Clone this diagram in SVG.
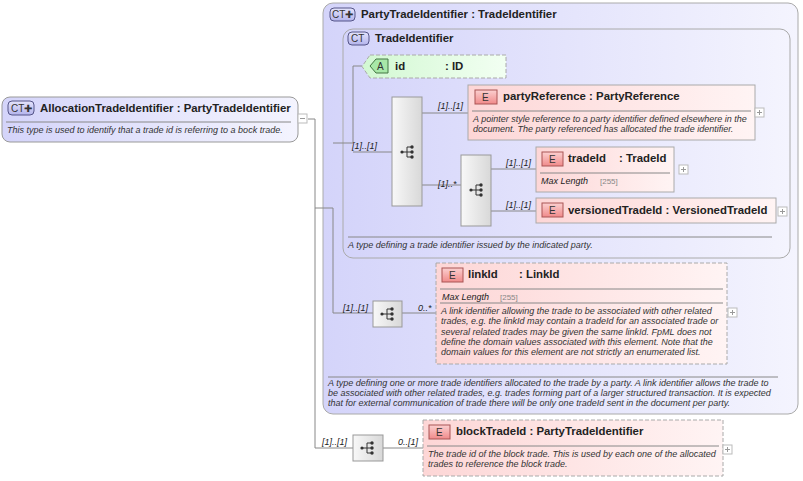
<svg xmlns="http://www.w3.org/2000/svg" width="803" height="481" viewBox="0 0 803 481">
<defs>
<linearGradient id="gCT" x1="0" y1="0" x2="1" y2="0"><stop offset="0" stop-color="#d4d4fa"/><stop offset="1" stop-color="#f4f4fe"/></linearGradient>
<linearGradient id="gE" x1="0" y1="0" x2="1" y2="0"><stop offset="0" stop-color="#fdd6d6"/><stop offset="1" stop-color="#fff4f4"/></linearGradient>
<linearGradient id="gA" x1="0" y1="0" x2="1" y2="0"><stop offset="0" stop-color="#d2f8d2"/><stop offset="1" stop-color="#f2fff2"/></linearGradient>
<linearGradient id="gS" x1="0" y1="0" x2="1" y2="0"><stop offset="0" stop-color="#f8f8f8"/><stop offset="1" stop-color="#d8d8d8"/></linearGradient>
<linearGradient id="gB" x1="0" y1="0" x2="0" y2="1"><stop offset="0" stop-color="#fbd0d0"/><stop offset="1" stop-color="#f08a8a"/></linearGradient>
<linearGradient id="gC" x1="0" y1="0" x2="0" y2="1"><stop offset="0" stop-color="#e4e4fc"/><stop offset="1" stop-color="#b4b4ec"/></linearGradient>
<g id="seqicon"><circle cx="-6" cy="0" r="1.6" fill="#333"/><path d="M-6 0H-1M-1 -5V5M-1 -5H4M-1 0H4M-1 5H4" stroke="#333" fill="none" stroke-width="1"/><circle cx="4" cy="-5" r="1.7" fill="#333"/><circle cx="4" cy="0" r="1.7" fill="#333"/><circle cx="4" cy="5" r="1.7" fill="#333"/></g>
<g id="plus"><rect x="0" y="0" width="9" height="9" fill="#fff" stroke="#bbb"/><path d="M2 4.5H7M4.5 2V7" stroke="#999"/></g>
</defs>
<style>
text{font-family:"Liberation Sans",Arial,sans-serif;fill:#222}
.t{font-size:11.4px;font-weight:bold}
.d{font-size:9px;font-style:italic;fill:#333}
.m{font-size:9px;font-style:italic;fill:#222}
.g{font-size:8px;fill:#888}
.b{font-size:10px;fill:#333}
.ln{stroke:#888;fill:none;stroke-width:1}
.div{stroke:#888;stroke-width:1}
.e{fill:url(#gE);stroke:#aaa}
.ed{fill:url(#gE);stroke:#aaa;stroke-dasharray:4 2}
.s{fill:url(#gS);stroke:#999}
.eb{fill:url(#gB);stroke:#a55}
.cb{fill:url(#gC);stroke:#558}
</style>
<g id="outer">
<rect x="323" y="3" width="475" height="411" rx="10" fill="url(#gCT)" stroke="#aaa"/>
<rect x="330" y="8" width="25" height="13" rx="4" class="cb"/><text class="b" x="332" y="18">CT✚</text>
<text class="t" x="361" y="18">PartyTradeIdentifier : TradeIdentifier</text>
<line class="div" x1="328" y1="377" x2="778" y2="377"/>
<text class="d" x="328" y="386">A type defining one or more trade identifiers allocated to the trade by a party. A link identifier allows the trade to</text>
<text class="d" x="328" y="396">be associated with other related trades, e.g. trades forming part of a larger structured transaction. It is expected</text>
<text class="d" x="328" y="406">that for external communication of trade there will be only one tradeId sent in the document per party.</text>
</g>
<g id="inner">
<rect x="343" y="29" width="447" height="229" rx="10" fill="url(#gCT)" stroke="#aaa"/>
<rect x="348" y="32" width="21" height="13" rx="4" class="cb"/><text class="b" x="351" y="42">CT</text>
<text class="t" x="375" y="42">TradeIdentifier</text>
<line class="div" x1="348" y1="237" x2="772" y2="237"/>
<text class="d" x="348" y="248">A type defining a trade identifier issued by the indicated party.</text>
</g>
<g id="connectors">
<path class="ln" d="M308 119H315V448H353M315 208H333V313H373M333 143H353V66H362M353 152H392M422 113H468M422 185H461M491 169H536M491 211H536M402 313H436M383 448H423"/>
<text class="m" x="438" y="109">[1]..[1]</text>
<text class="m" x="438" y="187">[1]..*</text>
<text class="m" x="352" y="149">[1]..[1]</text>
<text class="m" x="506" y="166">[1]..[1]</text>
<text class="m" x="506" y="208">[1]..[1]</text>
<text class="m" x="343" y="311">[1]..[1]</text>
<text class="m" x="418" y="311">0..*</text>
<text class="m" x="322" y="445">[1]..[1]</text>
<text class="m" x="398" y="445">0..[1]</text>
</g>
<g id="root">
<rect x="2" y="97" width="296" height="45" rx="8" fill="url(#gCT)" stroke="#999"/>
<rect x="8" y="101" width="26" height="14" rx="4" class="cb"/><text class="b" x="11" y="112">CT✚</text>
<text class="t" x="40" y="112">AllocationTradeIdentifier : PartyTradeIdentifier</text>
<line class="div" x1="6" y1="122" x2="291" y2="122"/>
<text class="d" x="7" y="133">This type is used to identify that a trade id is referring to a bock trade.</text>
<rect x="298" y="114" width="9" height="9" fill="#fff" stroke="#bbb"/><path d="M300 118.5H305" stroke="#999"/>
</g>
<g id="id">
<path d="M370 55H506V78H370L362 66.5Z" fill="url(#gA)" stroke="#aaa" stroke-dasharray="4 2"/>
<path d="M376 59H388V73H376L370 66Z" fill="#a8e8a8" stroke="#474"/><text class="b" x="377" y="70">A</text>
<text class="t" x="395" y="70">id</text><text class="t" x="445" y="70">: ID</text>
</g>
<g id="seq1"><rect class="s" x="392" y="97" width="30" height="109"/><use href="#seqicon" x="408" y="152"/></g>
<g id="seq2"><rect class="s" x="461" y="155" width="30" height="71"/><use href="#seqicon" x="477" y="190"/></g>
<g id="seq3"><rect class="s" x="373" y="301" width="29" height="26"/><use href="#seqicon" x="388" y="314"/></g>
<g id="seq4"><rect class="s" x="353" y="435" width="30" height="26"/><use href="#seqicon" x="368" y="448"/></g>
<g id="partyReference">
<rect class="e" x="468" y="85" width="287" height="55"/>
<rect class="eb" x="475" y="90" width="22" height="14"/><text class="b" x="482" y="101">E</text>
<text class="t" x="503" y="100">partyReference : PartyReference</text>
<line class="div" x1="472" y1="111" x2="751" y2="111"/>
<text class="d" x="473" y="122">A pointer style reference to a party identifier defined elsewhere in the</text>
<text class="d" x="473" y="132">document. The party referenced has allocated the trade identifier.</text>
<use href="#plus" x="755" y="108"/>
</g>
<g id="tradeId">
<rect class="e" x="536" y="147" width="138" height="45"/>
<rect class="eb" x="542" y="152" width="21" height="14"/><text class="b" x="549" y="163">E</text>
<text class="t" x="568" y="162">tradeId</text><text class="t" x="619" y="162">: TradeId</text>
<line class="div" x1="540" y1="173" x2="670" y2="173"/>
<text class="m" x="541" y="184">Max Length</text><text class="g" x="600" y="184">[255]</text>
<use href="#plus" x="679" y="165"/>
</g>
<g id="versionedTradeId">
<rect class="e" x="536" y="198" width="240" height="25"/>
<rect class="eb" x="542" y="203" width="21" height="14"/><text class="b" x="549" y="214">E</text>
<text class="t" x="568" y="214">versionedTradeId : VersionedTradeId</text>
<use href="#plus" x="778" y="207"/>
</g>
<g id="linkId">
<rect class="ed" x="436" y="263" width="291" height="101"/>
<rect class="eb" x="442" y="268" width="21" height="14"/><text class="b" x="449" y="279">E</text>
<text class="t" x="468" y="278">linkId</text><text class="t" x="519" y="278">: LinkId</text>
<line class="div" x1="440" y1="289" x2="723" y2="289"/>
<text class="m" x="442" y="300">Max Length</text><text class="g" x="500" y="300">[255]</text>
<line class="div" x1="440" y1="303" x2="723" y2="303"/>
<text class="d" x="441" y="314">A link identifier allowing the trade to be associated with other related</text>
<text class="d" x="441" y="324">trades, e.g. the linkId may contain a tradeId for an associated trade or</text>
<text class="d" x="441" y="335">several related trades may be given the same linkId. FpML does not</text>
<text class="d" x="441" y="345">define the domain values associated with this element. Note that the</text>
<text class="d" x="441" y="355">domain values for this element are not strictly an enumerated list.</text>
<use href="#plus" x="728" y="308"/>
</g>
<g id="blockTradeId">
<rect class="ed" x="423" y="420" width="300" height="56"/>
<rect class="eb" x="429" y="425" width="21" height="14"/><text class="b" x="436" y="436">E</text>
<text class="t" x="456" y="435">blockTradeId : PartyTradeIdentifier</text>
<line class="div" x1="427" y1="446" x2="719" y2="446"/>
<text class="d" x="428" y="457">The trade id of the block trade. This is used by each one of the allocated</text>
<text class="d" x="428" y="467">trades to reference the block trade.</text>
<use href="#plus" x="723" y="445"/>
</g>
</svg>
